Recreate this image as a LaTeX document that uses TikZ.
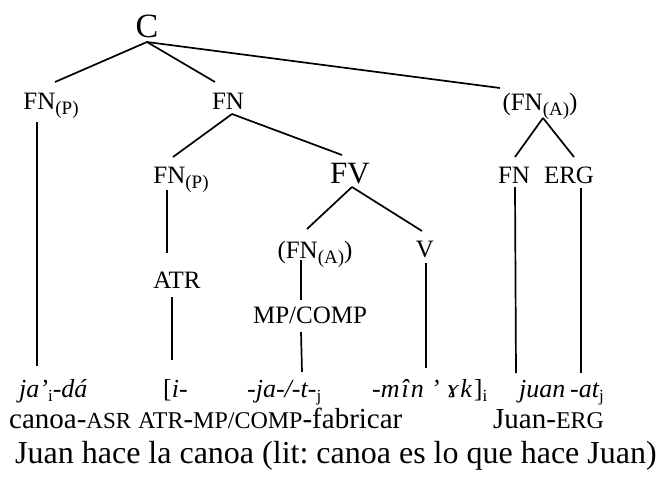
\documentclass[tikz,border=0pt]{standalone}
\usepackage{fontspec}
\setmainfont{Liberation Serif}
\usetikzlibrary{calc}
\frenchspacing
\newcommand\sbs[1]{\raisebox{-5pt}{\fontsize{19pt}{19pt}\selectfont\upshape #1}}
\newcommand\sbi[1]{\raisebox{-4pt}{\fontsize{17pt}{17pt}\selectfont\upshape #1}}
\newcommand\smc[1]{{\fontsize{24pt}{28pt}\selectfont #1}}
\tikzset{
  lab/.style={anchor=base, inner sep=0pt, font=\fontsize{25pt}{30pt}\selectfont},
  big/.style={anchor=base, inner sep=0pt, font=\fontsize{31pt}{36pt}\selectfont},
  wd/.style={anchor=base west, inner sep=0pt, font=\fontsize{26pt}{30pt}\selectfont\itshape},
  gl/.style={anchor=base west, inner sep=0pt, font=\fontsize{29pt}{32pt}\selectfont},
  tr/.style={anchor=base west, inner sep=0pt, font=\fontsize{32pt}{36pt}\selectfont},
  edge/.style={line width=1.7pt}
}
\begin{document}
\begin{tikzpicture}[x=1pt,y=-1pt]
\useasboundingbox (0,0) rectangle (657,477);
% tree labels
\node[big, font=\fontsize{34pt}{38pt}\selectfont] (C) at (147,37) {C};
\node[lab] (fnpL) at (51,109) {FN\sbs{(P)}};
\node[lab] (fn) at (228,109) {FN};
\node[lab] (fnaR) at (540,110) {(FN\sbs{(A)})};
\node[lab] (fnpI) at (181,183) {FN\sbs{(P)}};
\node[big] (fv) at (350,183) {FV};
\node[lab] (fnR) at (514,183) {FN};
\node[lab] (erg) at (569,183) {ERG};
\node[lab] (atr) at (177,288) {ATR};
\node[lab] (fnaI) at (315,258) {(FN\sbs{(A)})};
\node[lab] (v) at (425,257) {V};
\node[lab] (mp) at (310,323) {MP/COMP};
% words
\node[wd] (w1) at (19,397) {ja’\sbi{i}-dá};
\node[wd] (w2) at (163,397) {\textup{[}i-};
\node[wd] (w3) at (247,397) {-ja-/-t-\sbi{j}};
\node[wd] (w4) at (372,397) {-m\kern2ptî\kern2ptn\kern7pt’\kern7ptɤ\kern2ptk\kern2pt\textup{]}\sbi{i}};
\node[wd] (w5) at (519,397) {juan};
\node[wd] (w6) at (570,397) {-at\sbi{j}};
% glosses
\node[gl] (g1) at (9,428) {canoa-{\fontsize{23pt}{28pt}\selectfont ASR}};
\node[gl] (g2) at (138,428) {\smc{ATR}-\smc{MP/COMP}-fabricar};
\node[gl] (g3) at (493,428) {Juan-\smc{ERG}};
\node[tr] (tr) at (15,463) {Juan hace la canoa (lit: canoa es lo que hace Juan)};
% connectors
\draw[edge] ($(C.base)+(0,5)$) -- ($(fnpL.base)+(4,-27)$);
\draw[edge] ($(C.base)+(0,5)$) -- ($(fn.base)+(-13,-27)$);
\draw[edge] ($(C.base)+(0,5)$) -- ($(fnaR.base)+(-40,-22)$);
\draw[edge] ($(fnpL.base)+(-14,13)$) -- ($(w1.base west)+(18,-31)$);
\draw[edge] ($(fn.base)+(4,5)$) -- ($(fnpI.base)+(-8,-26)$);
\draw[edge] ($(fn.base)+(4,5)$) -- ($(fv.base)+(-8,-28)$);
\draw[edge] ($(fnpI.base)+(-14,7)$) -- ($(atr.base)+(-10,-35)$);
\draw[edge] ($(atr.base)+(-5,9)$) -- ($(w2.base west)+(9,-37)$);
\draw[edge] ($(fv.base)+(2,4)$) -- ($(fnaI.base)+(-8,-29)$);
\draw[edge] ($(fv.base)+(2,4)$) -- ($(v.base)+(-3,-26)$);
\draw[edge] ($(fnaI.base)+(-14,2)$) -- ($(mp.base)+(-9,-23)$);
\draw[edge] ($(mp.base)+(-9,9)$) -- ($(w3.base west)+(55,-25)$);
\draw[edge] ($(v.base)+(1,6)$) -- ($(w4.base west)+(54,-29)$);
\draw[edge] ($(fnaR.base)+(3,8)$) -- ($(fnR.base)+(1,-26)$);
\draw[edge] ($(fnaR.base)+(3,8)$) -- ($(erg.base)+(5,-26)$);
\draw[edge] ($(fnR.base)+(1,4)$) -- ($(w5.base west)+(-3,-24)$);
\draw[edge] ($(erg.base)+(12,5)$) -- ($(w6.base west)+(11,-24)$);
\end{tikzpicture}
\end{document}
